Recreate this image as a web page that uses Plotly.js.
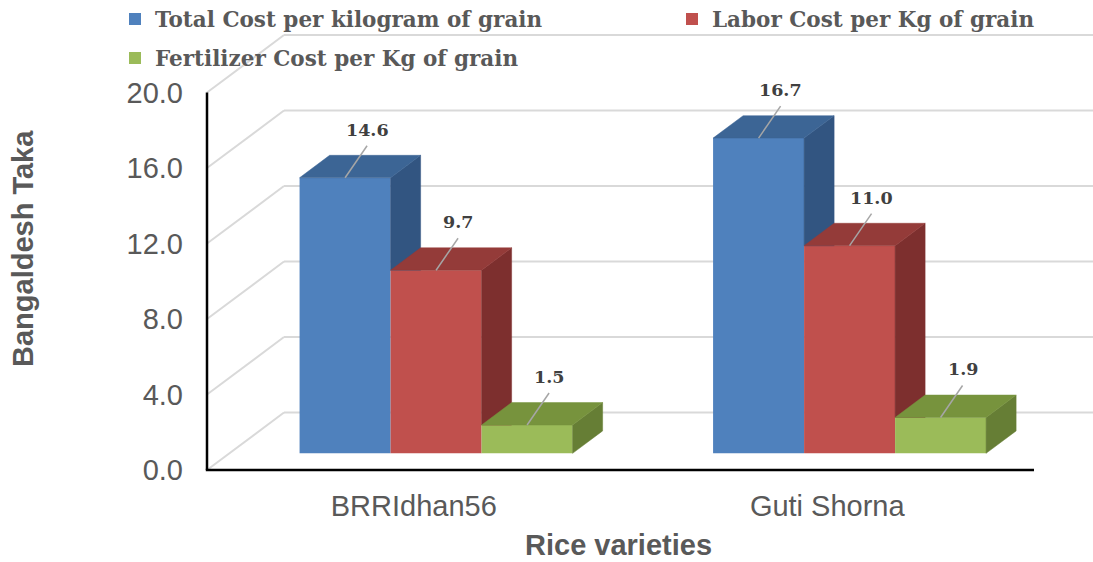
<!DOCTYPE html>
<html><head><meta charset="utf-8">
<script src="https://cdn.plot.ly/plotly-3.0.1.min.js"></script>
<style>html,body{margin:0;padding:0;background:#fff}#chart{width:1093px;height:562px}</style>
</head><body><div id="chart"></div>
<script>
// ---- data ----
const categories = ['BRRIdhan56', 'Guti Shorna'];
const seriesNames = ['Total Cost per kilogram of grain', 'Labor Cost per Kg of grain', 'Fertilizer Cost per Kg of grain'];
const totalCost = [14.6, 16.7];
const laborCost = [9.7, 11.0];
const fertilizerCost = [1.5, 1.9];
const yTickValues = [0, 4, 8, 12, 16, 20];
const yTickLabels = ['0.0', '4.0', '8.0', '12.0', '16.0', '20.0'];

// ---- styling / geometry ----
const series = [totalCost, laborCost, fertilizerCost];
const colors = [
  {front: '#4f81bd', top: '#3c6595', side: '#325581'},
  {front: '#c0504d', top: '#943b39', side: '#7d2f2e'},
  {front: '#9bbb59', top: '#77933d', side: '#667e35'}
];
const W = 1093, H = 562, L = 200, R = 0, T = 28, B = 80;
const plotW = W - L - R, plotH = H - T - B;
const pxPerX = 413.5, pxPerY = 18.875;
const x0px = 207, y0px = 470;
const xLeft = -0.5;
const xMin = xLeft - (x0px - L) / pxPerX;
const xMax = xMin + plotW / pxPerX;
const yMin = -((T + plotH) - y0px) / pxPerY;
const yMax = yMin + plotH / pxPerY;
const DX = 77 / pxPerX, DY = 57.5 / pxPerY;     // full depth of the 3D box
const barFront = 0.29, barDepth = 0.39;          // fraction of depth
const barW = 91 / pxPerX;
const baseY = barFront * DY, ddx = barDepth * DX, ddy = barDepth * DY;
const gridColor = '#d9d9d9';

const traces = [];
series.forEach((vals, k) => {
  traces.push({
    type: 'bar', name: seriesNames[k],
    x: categories.map((c, i) => i + barFront * DX + (k - 1) * barW),
    y: vals, base: vals.map(() => baseY), width: barW,
    marker: {color: colors[k].front, line: {width: 0}},
    legend: k === 0 ? 'legend' : 'legend' + (k + 1),
    hoverinfo: 'skip'
  });
});

function poly(pts, color) {
  const xs = pts.map(p => p[0]); const ys = pts.map(p => p[1]);
  xs.push(pts[0][0]); ys.push(pts[0][1]);
  return {type: 'scatter', mode: 'lines', x: xs, y: ys, fill: 'toself', fillcolor: color,
    line: {color: color, width: 0.5}, showlegend: false, hoverinfo: 'skip'};
}

const shapes = [];
const annotations = [];

categories.forEach((c, i) => {
  series.forEach((vals, k) => {
    const xa = i + barFront * DX + (k - 1.5) * barW;
    const xb = xa + barW;
    const h = baseY + vals[i];
    // side face (clipped above the next bar in front of it)
    let lowFront = baseY, lowBack = baseY + ddy;
    let visible = true;
    if (k < series.length - 1) {
      const hn = baseY + series[k + 1][i];
      if (hn >= h) visible = false;
      lowFront = Math.max(baseY, hn);
      lowBack = Math.max(baseY + ddy, hn);
    }
    if (visible) {
      traces.push(poly([[xb, lowFront], [xb, h], [xb + ddx, h + ddy], [xb + ddx, lowBack]], colors[k].side));
    }
    // top face
    traces.push(poly([[xa, h], [xb, h], [xb + ddx, h + ddy], [xa + ddx, h + ddy]], colors[k].top));
    // data label with leader line
    const cx = (xa + xb) / 2;
    shapes.push({type: 'line', xref: 'x', yref: 'y', layer: 'above',
      x0: cx, y0: h, x1: cx + 22 / pxPerX, y1: h + 32 / pxPerY,
      line: {color: '#a6a6a6', width: 1.5}});
    annotations.push({xref: 'x', yref: 'y', x: cx + 22 / pxPerX, y: h + 48 / pxPerY,
      text: vals[i].toFixed(1), showarrow: false, xanchor: 'center', yanchor: 'middle',
      font: {family: 'DejaVu Serif', size: 17.5, color: '#404040', weight: 700}});
  });
});

// back-wall gridlines (3D)
yTickValues.forEach(v => {
  shapes.push({type: 'line', xref: 'x', yref: 'y', layer: 'below',
    x0: xLeft, y0: v, x1: xLeft + DX, y1: v + DY, line: {color: gridColor, width: 2}});
  shapes.push({type: 'line', xref: 'x', yref: 'y', layer: 'below',
    x0: xLeft + DX, y0: v + DY, x1: xMax + 1, y1: v + DY, line: {color: gridColor, width: 2}});
});
// axis lines
shapes.push({type: 'line', xref: 'x', yref: 'y', layer: 'above',
  x0: xLeft, y0: 0, x1: xLeft, y1: yTickValues[yTickValues.length - 1], line: {color: '#000', width: 2.5}});
shapes.push({type: 'line', xref: 'x', yref: 'y', layer: 'above',
  x0: xLeft - 1.2 / pxPerX, y0: 0, x1: categories.length - 0.5, y1: 0, line: {color: '#000', width: 2.5}});

// axis titles
const titleFont = {family: 'Liberation Sans, Arial', size: 29, color: '#595959', weight: 700};
annotations.push({xref: 'paper', yref: 'paper', x: (618 - L) / plotW, y: ((T + plotH) - 545) / plotH,
  text: 'Rice varieties', showarrow: false, xanchor: 'center', yanchor: 'middle', font: titleFont});
annotations.push({xref: 'paper', yref: 'paper', x: (23 - L) / plotW, y: ((T + plotH) - 249) / plotH,
  text: 'Bangaldesh Taka', showarrow: false, textangle: -90, xanchor: 'center', yanchor: 'middle', font: titleFont});

const legendFont = {family: 'DejaVu Serif', size: 21.5, color: '#595959', weight: 700};
const legendBase = {xref: 'container', yref: 'container', xanchor: 'left', yanchor: 'middle',
  font: legendFont, bgcolor: 'rgba(0,0,0,0)', borderwidth: 0};
const tickFont = {family: 'Liberation Sans, Arial', size: 29, color: '#595959'};

const layout = {
  width: W, height: H,
  margin: {l: L, r: R, t: T, b: B, pad: 0, autoexpand: false},
  paper_bgcolor: '#fff', plot_bgcolor: 'rgba(0,0,0,0)',
  barmode: 'overlay',
  showlegend: true,
  legend: Object.assign({}, legendBase, {x: 115 / W, y: 1 - 19 / H}),
  legend2: Object.assign({}, legendBase, {x: 672 / W, y: 1 - 19 / H}),
  legend3: Object.assign({}, legendBase, {x: 115 / W, y: 1 - 58 / H}),
  xaxis: {range: [xMin, xMax], tickmode: 'array', tickvals: categories.map((c, i) => i), ticktext: categories,
    showgrid: false, zeroline: false, showline: false, ticks: '', tickfont: tickFont, tickangle: 0,
    ticklabelstandoff: 4, automargin: false, fixedrange: true},
  yaxis: {range: [yMin, yMax], tickmode: 'array', tickvals: yTickValues, ticktext: yTickLabels,
    showgrid: false, zeroline: false, showline: false, ticks: '', tickfont: tickFont,
    ticklabelstandoff: 16, automargin: false, fixedrange: true},
  shapes: shapes,
  annotations: annotations
};

Plotly.newPlot('chart', traces, layout, {displayModeBar: false, staticPlot: true});
</script>
</body></html>
